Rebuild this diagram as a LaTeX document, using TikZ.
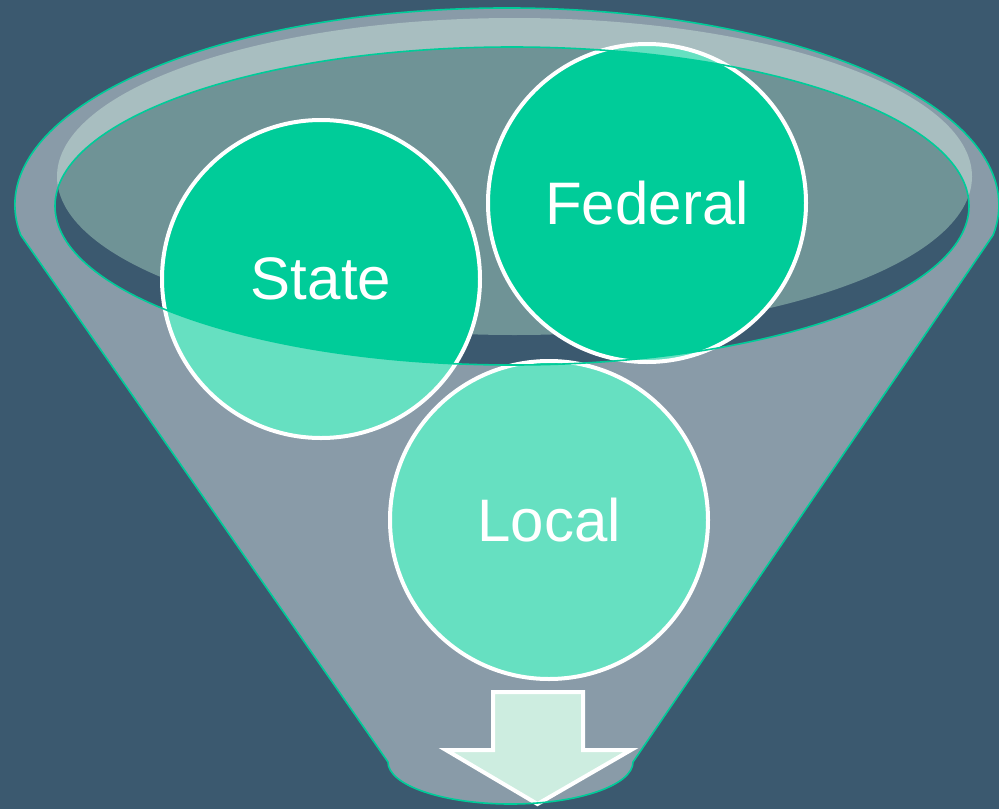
\documentclass[tikz,border=0pt]{standalone}
\usepackage{fontspec}
\setmainfont{Liberation Sans}
\definecolor{bgc}{RGB}{59,89,111}
\definecolor{liquid}{RGB}{111,147,150}
\definecolor{teal}{RGB}{0,204,153}
\definecolor{arrowfill}{RGB}{205,237,224}
\tikzset{
  circ/.style={circle, fill=teal, draw=white, line width=4pt, minimum size=318pt, inner sep=0pt,
    text=white, font=\fontsize{60}{72}\selectfont},
  rimline/.style={draw=teal, line width=1.6pt},
}
\begin{document}
\begin{tikzpicture}[x=1pt,y=-1pt]
\fill[bgc] (0,0) rectangle (999,809);
\useasboundingbox (0,0) rectangle (999,809);
% liquid surface (back)
\fill[liquid] (514.5,176.5) ellipse[x radius=457.5pt, y radius=158.5pt];
% circles
\node[circ] (state) at (321,279) {State};
\node[circ] (federal) at (647,203) {Federal};
\node[circ] (local) at (549,520) {Local};
% funnel front
\coordinate (L) at (20.7,235);
\coordinate (R) at (993.3,235);
\coordinate (BR) at (633,762);
\coordinate (BL) at (388,762);
\fill[white, fill opacity=0.4, even odd rule]
  (L) arc[start angle=188.77, end angle=-8.77, x radius=492pt, y radius=197pt]
  -- (BR) arc[start angle=0, end angle=-180, x radius=122.5pt, y radius=42pt] -- cycle
  (512,206) ellipse[x radius=457pt, y radius=159pt];
% arrow
\coordinate (a1) at (493,692);
\coordinate (a2) at (583,692);
\coordinate (a3) at (583,750);
\coordinate (a4) at (631,750);
\coordinate (a5) at (537.5,804);
\coordinate (a6) at (446,750);
\coordinate (a7) at (493,750);
\filldraw[fill=arrowfill, draw=white, line width=4pt, line join=miter]
  (a1) -- (a2) -- (a3) -- (a4) -- (a5) -- (a6) -- (a7) -- cycle;
% outlines
\draw[rimline, line join=round]
  (L) arc[start angle=188.77, end angle=-8.77, x radius=492pt, y radius=197pt]
  -- (BR) arc[start angle=0, end angle=-180, x radius=122.5pt, y radius=42pt] -- cycle;
\draw[rimline] (512,206) ellipse[x radius=457pt, y radius=159pt];
\end{tikzpicture}
\end{document}
